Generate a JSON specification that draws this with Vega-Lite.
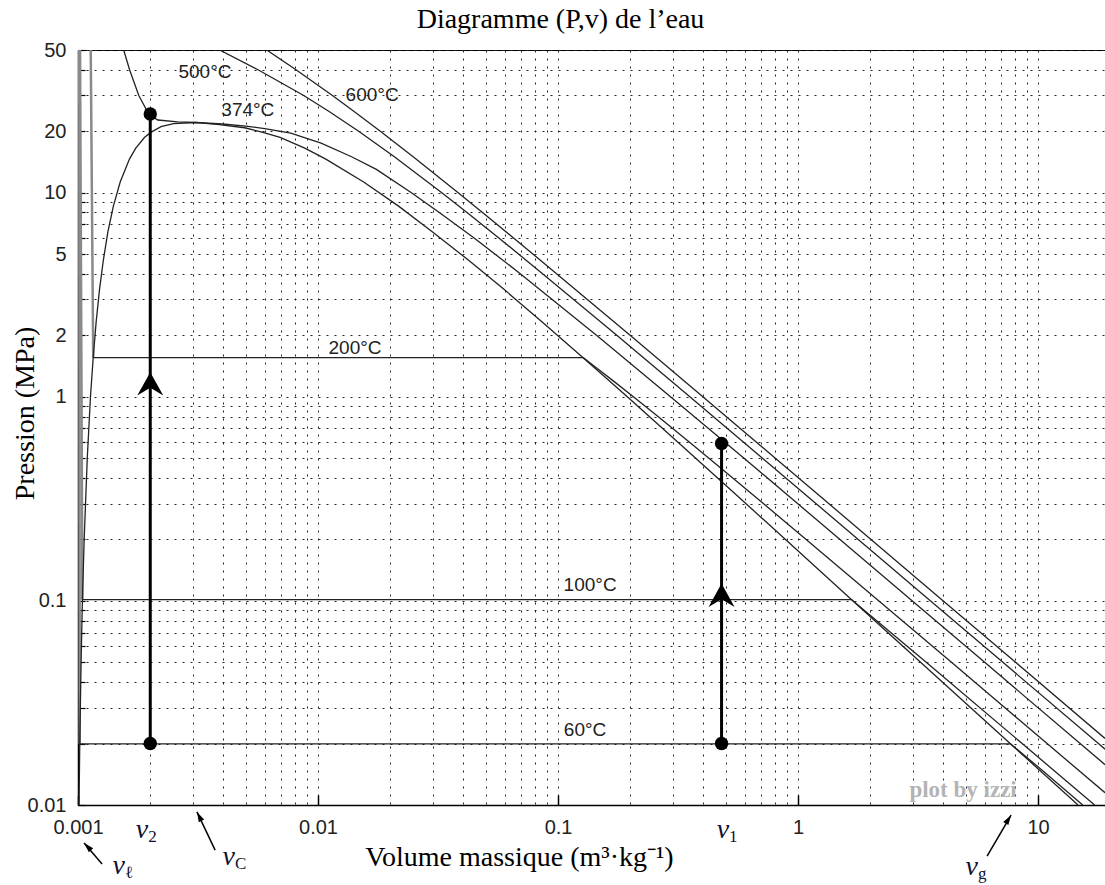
{
  "$schema": "https://vega.github.io/schema/vega-lite/v6.json",
  "width": 1027,
  "height": 755,
  "autosize": {"type": "none"},
  "padding": {"left": 78, "top": 50, "right": 0, "bottom": 80},
  "background": "white",
  "config": {"view": {"stroke": "#000", "strokeWidth": 1}},
  "title": {"text": "Diagramme (P,v) de l’eau", "font": "Liberation Serif", "fontSize": 28, "fontWeight": "normal", "color": "#000", "anchor": "middle", "dx": -31, "dy": 30, "offset": 14, "baseline": "alphabetic"},
  "datasets": {
    "curves": [
      {"id": "sat", "v": 0.00101, "P": 0.01}, {"id": "sat", "v": 0.001017, "P": 0.02}, {"id": "sat", "v": 0.00103, "P": 0.05}, {"id": "sat", "v": 0.001043, "P": 0.1}, {"id": "sat", "v": 0.001061, "P": 0.2}, {"id": "sat", "v": 0.001093, "P": 0.5}, {"id": "sat", "v": 0.001127, "P": 1.0}, {"id": "sat", "v": 0.001157, "P": 1.554}, {"id": "sat", "v": 0.00119, "P": 2.32}, {"id": "sat", "v": 0.001229, "P": 3.35}, {"id": "sat", "v": 0.001276, "P": 4.69}, {"id": "sat", "v": 0.001332, "P": 6.42}, {"id": "sat", "v": 0.001404, "P": 8.59}, {"id": "sat", "v": 0.001499, "P": 11.28}, {"id": "sat", "v": 0.001638, "P": 14.6}, {"id": "sat", "v": 0.001741, "P": 16.53}, {"id": "sat", "v": 0.001895, "P": 18.67}, {"id": "sat", "v": 0.00202, "P": 19.8}, {"id": "sat", "v": 0.002217, "P": 21.04}, {"id": "sat", "v": 0.0025, "P": 21.8}, {"id": "sat", "v": 0.003106, "P": 22.064}, {"id": "sat", "v": 0.0038, "P": 21.6}, {"id": "sat", "v": 0.004953, "P": 20.8}, {"id": "sat", "v": 0.00584, "P": 19.8}, {"id": "sat", "v": 0.00695, "P": 18.67}, {"id": "sat", "v": 0.008806, "P": 16.53}, {"id": "sat", "v": 0.010779, "P": 14.6}, {"id": "sat", "v": 0.015493, "P": 11.28}, {"id": "sat", "v": 0.021659, "P": 8.59}, {"id": "sat", "v": 0.030008, "P": 6.42}, {"id": "sat", "v": 0.042149, "P": 4.69}, {"id": "sat", "v": 0.059707, "P": 3.35}, {"id": "sat", "v": 0.086094, "P": 2.32}, {"id": "sat", "v": 0.12721, "P": 1.554}, {"id": "sat", "v": 0.19384, "P": 1.003}, {"id": "sat", "v": 0.30678, "P": 0.618}, {"id": "sat", "v": 0.5085, "P": 0.3615}, {"id": "sat", "v": 0.89133, "P": 0.1987}, {"id": "sat", "v": 1.672, "P": 0.1014}, {"id": "sat", "v": 3.4053, "P": 0.0474}, {"id": "sat", "v": 7.667, "P": 0.01995}, {"id": "sat", "v": 12.026, "P": 0.01235}, {"id": "sat", "v": 14.67, "P": 0.01},
      {"id": "T374", "v": 0.00155, "P": 50}, {"id": "T374", "v": 0.00164, "P": 40}, {"id": "T374", "v": 0.00179, "P": 30}, {"id": "T374", "v": 0.00197, "P": 24.3}, {"id": "T374", "v": 0.00215, "P": 22.7}, {"id": "T374", "v": 0.0026, "P": 22.2}, {"id": "T374", "v": 0.0031, "P": 22.064}, {"id": "T374", "v": 0.004, "P": 21.7}, {"id": "T374", "v": 0.005, "P": 21.2}, {"id": "T374", "v": 0.006, "P": 20.6}, {"id": "T374", "v": 0.0077, "P": 19.6}, {"id": "T374", "v": 0.0103, "P": 17.5}, {"id": "T374", "v": 0.0138, "P": 15}, {"id": "T374", "v": 0.0175, "P": 13}, {"id": "T374", "v": 0.0245, "P": 10}, {"id": "T374", "v": 0.032, "P": 8}, {"id": "T374", "v": 0.0447, "P": 6}, {"id": "T374", "v": 0.0698, "P": 4}, {"id": "T374", "v": 0.1446, "P": 2}, {"id": "T374", "v": 0.2941, "P": 1}, {"id": "T374", "v": 0.5955, "P": 0.5}, {"id": "T374", "v": 1.495, "P": 0.2}, {"id": "T374", "v": 2.994, "P": 0.1}, {"id": "T374", "v": 5.99, "P": 0.05}, {"id": "T374", "v": 14.97, "P": 0.02}, {"id": "T374", "v": 19, "P": 0.01576},
      {"id": "T500", "v": 0.00389, "P": 50}, {"id": "T500", "v": 0.005623, "P": 40}, {"id": "T500", "v": 0.008679, "P": 30}, {"id": "T500", "v": 0.011123, "P": 25}, {"id": "T500", "v": 0.014768, "P": 20}, {"id": "T500", "v": 0.0208, "P": 15}, {"id": "T500", "v": 0.03279, "P": 10}, {"id": "T500", "v": 0.04175, "P": 8}, {"id": "T500", "v": 0.05665, "P": 6}, {"id": "T500", "v": 0.08643, "P": 4}, {"id": "T500", "v": 0.17568, "P": 2}, {"id": "T500", "v": 0.3541, "P": 1}, {"id": "T500", "v": 0.7109, "P": 0.5}, {"id": "T500", "v": 1.7814, "P": 0.2}, {"id": "T500", "v": 3.565, "P": 0.1}, {"id": "T500", "v": 7.134, "P": 0.05}, {"id": "T500", "v": 17.84, "P": 0.02}, {"id": "T500", "v": 19, "P": 0.01878},
      {"id": "T600", "v": 0.006112, "P": 50}, {"id": "T600", "v": 0.008094, "P": 40}, {"id": "T600", "v": 0.011446, "P": 30}, {"id": "T600", "v": 0.014137, "P": 25}, {"id": "T600", "v": 0.018178, "P": 20}, {"id": "T600", "v": 0.02491, "P": 15}, {"id": "T600", "v": 0.03837, "P": 10}, {"id": "T600", "v": 0.04845, "P": 8}, {"id": "T600", "v": 0.06525, "P": 6}, {"id": "T600", "v": 0.09885, "P": 4}, {"id": "T600", "v": 0.1996, "P": 2}, {"id": "T600", "v": 0.4011, "P": 1}, {"id": "T600", "v": 0.8041, "P": 0.5}, {"id": "T600", "v": 2.013, "P": 0.2}, {"id": "T600", "v": 4.028, "P": 0.1}, {"id": "T600", "v": 8.057, "P": 0.05}, {"id": "T600", "v": 19, "P": 0.0212},
      {"id": "T200", "v": 0.001157, "P": 1.554}, {"id": "T200", "v": 0.12736, "P": 1.554}, {"id": "T200", "v": 0.14302, "P": 1.4}, {"id": "T200", "v": 0.1693, "P": 1.2}, {"id": "T200", "v": 0.20602, "P": 1.0}, {"id": "T200", "v": 0.26088, "P": 0.8}, {"id": "T200", "v": 0.35212, "P": 0.6}, {"id": "T200", "v": 0.53434, "P": 0.4}, {"id": "T200", "v": 0.71643, "P": 0.3}, {"id": "T200", "v": 1.08049, "P": 0.2}, {"id": "T200", "v": 2.17226, "P": 0.1}, {"id": "T200", "v": 4.35628, "P": 0.05}, {"id": "T200", "v": 10.9, "P": 0.02}, {"id": "T200", "v": 19, "P": 0.01149},
      {"id": "T100", "v": 0.001043, "P": 0.1014}, {"id": "T100", "v": 1.672, "P": 0.1014}, {"id": "T100", "v": 1.6959, "P": 0.1}, {"id": "T100", "v": 3.4187, "P": 0.05}, {"id": "T100", "v": 8.585, "P": 0.02}, {"id": "T100", "v": 17.196, "P": 0.01},
      {"id": "T60", "v": 0.001017, "P": 0.01995}, {"id": "T60", "v": 7.667, "P": 0.01995}, {"id": "T60", "v": 10.25, "P": 0.015}, {"id": "T60", "v": 15.34, "P": 0.01}
    ],
    "liquid": [
      {"id": "L60", "v": 0.001012, "P": 50}, {"id": "L60", "v": 0.001017, "P": 0.01995},
      {"id": "L100", "v": 0.00102, "P": 50}, {"id": "L100", "v": 0.001043, "P": 0.1014},
      {"id": "L200", "v": 0.00113, "P": 50}, {"id": "L200", "v": 0.001157, "P": 1.554}
    ],
    "paths": [
      {"id": "A2", "v": 0.002, "P": 0.02}, {"id": "A2", "v": 0.002, "P": 24.3},
      {"id": "A1", "v": 0.48, "P": 0.02}, {"id": "A1", "v": 0.48, "P": 0.59}
    ],
    "dots": [
      {"v": 0.002, "P": 0.02}, {"v": 0.002, "P": 24.3}, {"v": 0.48, "P": 0.02}, {"v": 0.48, "P": 0.59}
    ],
    "heads": [
      {"v": 0.002, "P": 1.14}, {"v": 0.48, "P": 0.105}
    ],
    "pointers": [
      {"id": "vC", "v": 0.003726, "P": 0.00601}, {"id": "vC", "v": 0.00313, "P": 0.00925},
      {"id": "vl", "v": 0.00126, "P": 0.00514}, {"id": "vl", "v": 0.00106, "P": 0.00651},
      {"id": "vg", "v": 6.13, "P": 0.00562}, {"id": "vg", "v": 7.72, "P": 0.00893}
    ],
    "tlabels": [
      {"t": "500°C", "v": 0.00338, "P": 39.0},
      {"t": "374°C", "v": 0.0051, "P": 25.4},
      {"t": "600°C", "v": 0.0168, "P": 30.1},
      {"t": "200°C", "v": 0.01426, "P": 1.73},
      {"t": "100°C", "v": 0.136, "P": 0.12},
      {"t": "60°C", "v": 0.1296, "P": 0.0233}
    ],
    "vlab": [
      {"m": "v", "s": "2", "v": 0.00196, "P": 0.00754},
      {"m": "v", "s": "1", "v": 0.516, "P": 0.00754},
      {"m": "v", "s": "C", "v": 0.00451, "P": 0.00556},
      {"m": "v", "s": "ℓ", "v": 0.00157, "P": 0.00502},
      {"m": "v", "s": "g", "v": 5.62, "P": 0.00497}
    ]
  },
  "encoding": {
    "x": {
      "field": "v", "type": "quantitative",
      "scale": {"type": "log", "domain": [0.001, 19], "nice": false},
      "axis": {
        "title": "Volume massique (m³·kg⁻¹)",
        "values": [0.001, 0.002, 0.003, 0.004, 0.005, 0.006, 0.007, 0.008, 0.009, 0.01, 0.02, 0.03, 0.04, 0.05, 0.06, 0.07, 0.08, 0.09, 0.1, 0.2, 0.3, 0.4, 0.5, 0.6, 0.7, 0.8, 0.9, 1, 2, 3, 4, 5, 6, 7, 8, 9, 10],
        "format": "~g",
        "labelExpr": "indexof([0.001,0.01,0.1,1,10], datum.value) >= 0 ? datum.label : ''",
        "labelOverlap": false, "labelFlush": false,
        "grid": true, "gridDash": [2, 6], "gridColor": "#222", "gridWidth": 1,
        "tickSize": -10, "tickColor": "#000", "tickWidth": 1.5,
        "tickOpacity": {"condition": {"test": "indexof([0.001,0.01,0.1,1,10], datum.value) >= 0", "value": 1}, "value": 0},
        "domainColor": "#000", "domainWidth": 1.5,
        "labelFont": "Liberation Sans", "labelFontSize": 20, "labelColor": "#222", "labelPadding": 22,
        "titleFont": "Liberation Serif", "titleFontSize": 28, "titleFontWeight": "normal", "titleColor": "#000",
        "titleX": 441, "titleY": 52, "titleBaseline": "middle", "titleAlign": "center"
      }
    },
    "y": {
      "field": "P", "type": "quantitative",
      "scale": {"type": "log", "domain": [0.01, 50], "nice": false},
      "axis": {
        "title": "Pression (MPa)",
        "values": [0.01, 0.02, 0.03, 0.04, 0.05, 0.06, 0.07, 0.08, 0.09, 0.1, 0.2, 0.3, 0.4, 0.5, 0.6, 0.7, 0.8, 0.9, 1, 2, 3, 4, 5, 6, 7, 8, 9, 10, 20, 30, 40, 50],
        "format": "~g",
        "labelExpr": "indexof([0.01,0.1,1,2,5,10,20,50], datum.value) >= 0 ? datum.label : ''",
        "labelOverlap": false, "labelFlush": false,
        "grid": true, "gridDash": [2, 6], "gridColor": "#222", "gridWidth": 1,
        "tickSize": -7, "tickColor": "#000", "tickWidth": 1.2,
        "domainColor": "#000", "domainWidth": 1.5,
        "labelFont": "Liberation Sans", "labelFontSize": 20, "labelColor": "#222", "labelPadding": 19,
        "titleFont": "Liberation Serif", "titleFontSize": 28, "titleFontWeight": "normal", "titleColor": "#000",
        "titleX": -53, "titleY": 363, "titleBaseline": "middle", "titleAlign": "center"
      }
    }
  },
  "layer": [
    {"data": {"name": "liquid"}, "mark": {"type": "line", "stroke": "#8a8a8a", "strokeWidth": 2.5, "clip": true}, "encoding": {"detail": {"field": "id"}}},
    {"data": {"name": "curves"}, "mark": {"type": "line", "stroke": "#222", "strokeWidth": 1.3, "clip": true}, "encoding": {"detail": {"field": "id"}}},
    {"data": {"name": "paths"}, "mark": {"type": "line", "stroke": "#000", "strokeWidth": 3, "clip": true}, "encoding": {"detail": {"field": "id"}}},
    {"data": {"name": "dots"}, "mark": {"type": "point", "shape": "circle", "filled": true, "fill": "#000", "size": 180, "opacity": 1}},
    {"data": {"name": "heads"}, "mark": {"type": "point", "shape": "M0,-1 L1,0.8 L0,0.2 L-1,0.8 Z", "filled": true, "fill": "#000", "size": 676, "opacity": 1}},
    {"data": {"name": "pointers"}, "mark": {"type": "line", "stroke": "#000", "strokeWidth": 1.5}, "encoding": {"detail": {"field": "id"}}},
    {"data": {"values": [{"v": 0.00313, "P": 0.00925}]}, "mark": {"type": "point", "shape": "M0,0 L0.3,1 L-0.3,1 Z", "filled": true, "fill": "#000", "size": 400, "opacity": 1, "angle": 333}},
    {"data": {"values": [{"v": 0.00106, "P": 0.00651}]}, "mark": {"type": "point", "shape": "M0,0 L0.3,1 L-0.3,1 Z", "filled": true, "fill": "#000", "size": 400, "opacity": 1, "angle": 316}},
    {"data": {"values": [{"v": 7.72, "P": 0.00893}]}, "mark": {"type": "point", "shape": "M0,0 L0.3,1 L-0.3,1 Z", "filled": true, "fill": "#000", "size": 400, "opacity": 1, "angle": 32}},
    {"data": {"name": "tlabels"}, "mark": {"type": "text", "font": "Liberation Sans", "fontSize": 19, "fill": "#222", "align": "center", "baseline": "middle"}, "encoding": {"text": {"field": "t"}}},
    {"data": {"name": "vlab"}, "mark": {"type": "text", "font": "Liberation Serif", "fontStyle": "italic", "fontSize": 28, "fill": "#101030", "align": "right", "baseline": "middle"}, "encoding": {"text": {"field": "m"}}},
    {"data": {"name": "vlab"}, "mark": {"type": "text", "font": "Liberation Serif", "fontSize": 17, "fill": "#101030", "align": "left", "baseline": "middle", "dy": 7}, "encoding": {"text": {"field": "s"}}},
    {"data": {"values": [{"t": "plot by izzi", "v": 4.87, "P": 0.01184}]}, "mark": {"type": "text", "font": "Liberation Serif", "fontWeight": "bold", "fontSize": 23, "fill": "#b4b4b4", "align": "center", "baseline": "middle"}, "encoding": {"text": {"field": "t"}}}
  ]
}
